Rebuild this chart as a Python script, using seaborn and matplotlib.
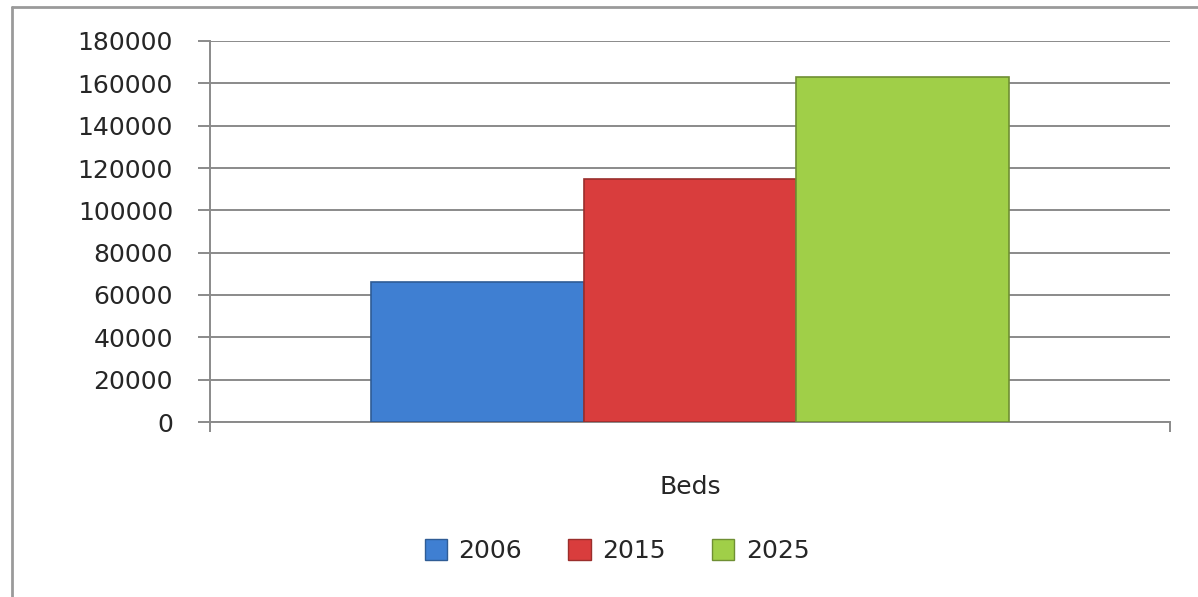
#!/usr/bin/env python3
"""Bar chart of beds in 2006, 2015 and 2025 (Excel style)."""

import matplotlib.pyplot as plt
import matplotlib.patches as mpatches
from matplotlib.lines import Line2D
import pandas as pd
import seaborn as sns

sns.set_theme(style="white")
plt.rcParams["font.family"] = ["DejaVu Sans"]

CATEGORIES = ["Beds", "Beds", "Beds"]
YEARS = ["2006", "2015", "2025"]
VALUES = [66000, 115000, 163000]
Y_TICKS = [0, 20000, 40000, 60000, 80000, 100000, 120000, 140000, 160000, 180000]

FACE = ["#3f7fd2", "#d93d3d", "#a0cf48"]
EDGE = ["#2f5c95", "#9a2e2c", "#6f8f33"]
GRID = "#8a8a8a"
TEXT = "#262626"


def main():
    df = pd.DataFrame({"cat": CATEGORIES, "year": YEARS, "value": VALUES})

    fig = plt.figure(figsize=(11.98, 5.97), dpi=100)
    ax = fig.add_axes([210 / 1198, 1 - 422 / 597, 960 / 1198, 381 / 597])

    sns.barplot(data=df, x="cat", y="value", hue="year", palette=FACE,
                saturation=1, width=0.664, gap=0, legend=False, ax=ax,
                zorder=3)
    for bar, ec in zip(ax.patches, EDGE):
        bar.set_edgecolor(ec)
        bar.set_linewidth(1.2)

    # axes look
    ax.set(xlim=(-0.5, 0.5), ylim=(0, 180000), xlabel="", ylabel="")
    ax.set_yticks(Y_TICKS)
    ax.set_yticklabels([str(t) for t in Y_TICKS])
    ax.yaxis.grid(True, color=GRID, linewidth=1.4, zorder=0)
    ax.xaxis.grid(False)
    for side in ["top", "right"]:
        ax.spines[side].set_visible(False)
    for side in ["left", "bottom"]:
        ax.spines[side].set_color(GRID)
        ax.spines[side].set_linewidth(1.4)
    ax.tick_params(axis="y", direction="out", length=8.6, width=1.4,
                   color=GRID, pad=18, labelsize=18, labelcolor=TEXT, left=True)
    ax.set_xticks([0])
    ax.set_xticklabels(["Beds"])
    ax.tick_params(axis="x", which="major", length=0, pad=38,
                   labelsize=18, labelcolor=TEXT)
    ax.set_xticks([-0.5, 0.5], minor=True)
    ax.tick_params(axis="x", which="minor", direction="out", length=7,
                   width=1.4, color=GRID, bottom=True)

    # legend below
    handles = [mpatches.Patch(facecolor=f, edgecolor=e, label=y)
               for f, e, y in zip(FACE, EDGE, YEARS)]
    fig.legend(handles=handles, loc="center", ncol=3, frameon=False,
               bbox_to_anchor=(617 / 1198, 1 - 551 / 597), fontsize=18,
               handlelength=0.9, handleheight=0.9, handletextpad=0.45,
               columnspacing=1.85, labelcolor=TEXT)

    # outer chart frame (top and left edges visible)
    fig.add_artist(Line2D([12 / 1198, 12 / 1198], [0, 1 - 7 / 597],
                          color="#9a9a9a", linewidth=2))
    fig.add_artist(Line2D([12 / 1198, 1], [1 - 7 / 597, 1 - 7 / 597],
                          color="#9a9a9a", linewidth=2))

    fig.savefig("out.png", dpi=100)


if __name__ == "__main__":
    main()
